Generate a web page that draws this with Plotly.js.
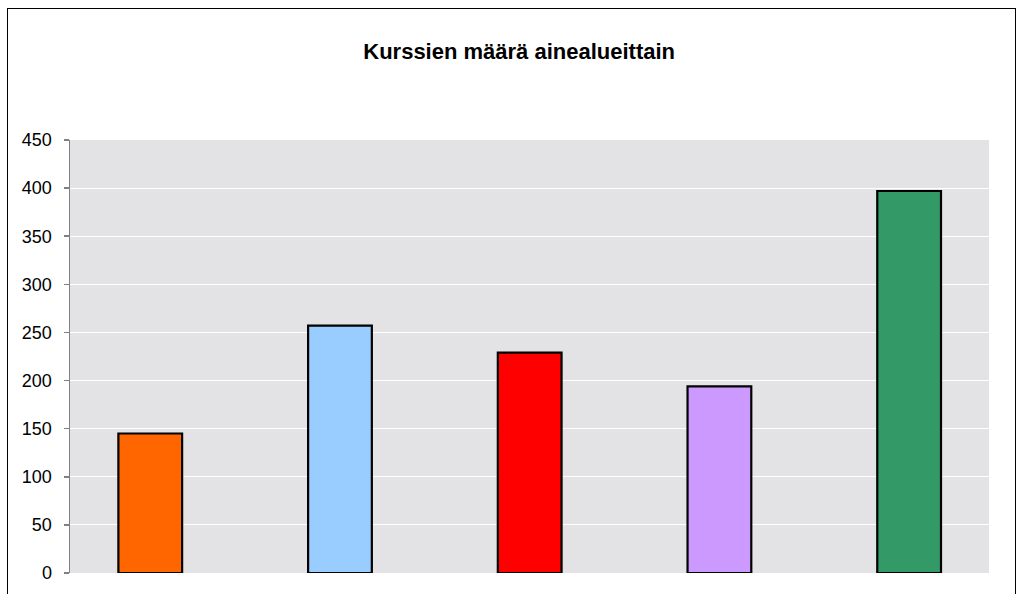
<!DOCTYPE html>
<html>
<head>
<meta charset="utf-8">
<script src="https://cdn.plot.ly/plotly-3.0.1.min.js"></script>
<style>
html,body{margin:0;padding:0;background:#fff;}
#wrap{position:relative;width:1024px;height:594px;overflow:hidden;}
#chart{width:1024px;height:594px;}
#frame{position:absolute;left:7px;top:8px;width:1007px;height:600px;border:1.5px solid #000;pointer-events:none;}
</style>
</head>
<body>
<div id="wrap">
<div id="chart"></div>
<div id="frame"></div>
</div>
<script>
const categories = ["Ainealue 1", "Ainealue 2", "Ainealue 3", "Ainealue 4", "Ainealue 5"];
const values = [145, 257, 229, 194, 397];
const colors = ["#FF6600", "#99CCFF", "#FF0000", "#CC99FF", "#339966"];
const yTicks = [0, 50, 100, 150, 200, 250, 300, 350, 400, 450];

const trace = {
  type: "bar",
  x: categories.map((c, i) => i),
  y: values,
  text: categories,
  hoverinfo: "text+y",
  textposition: "none",
  width: 0.336,
  marker: {color: colors, line: {color: "#000", width: 2.2}}
};

const layout = {
  width: 1024, height: 594,
  margin: {l: 70, r: 35, t: 140, b: 21},
  paper_bgcolor: "#ffffff",
  plot_bgcolor: "#e3e3e5",
  showlegend: false,
  title: {
    text: "<b>Kurssien määrä ainealueittain</b>",
    x: 0.507, xanchor: "center", y: 0.913, yanchor: "middle",
    font: {family: "Liberation Sans, Arial, sans-serif", size: 22, color: "#000"}
  },
  xaxis: {
    range: [-0.423, 4.421],
    showticklabels: false, showgrid: false, zeroline: false, ticks: "",
    showline: false, fixedrange: true
  },
  yaxis: {
    range: [0, 450],
    tickvals: yTicks,
    ticktext: yTicks.map(String),
    showgrid: true, gridcolor: "#ffffff", gridwidth: 1,
    zeroline: false,
    showline: true, linecolor: "#808080", linewidth: 1.5,
    ticks: "outside", ticklen: 5, tickcolor: "#808080", tickwidth: 1.5,
    ticklabelstandoff: 8,
    tickfont: {family: "Liberation Sans, Arial, sans-serif", size: 18, color: "#000"},
    fixedrange: true
  }
};

Plotly.newPlot("chart", [trace], layout, {displayModeBar: false, staticPlot: true});
</script>
</body>
</html>
